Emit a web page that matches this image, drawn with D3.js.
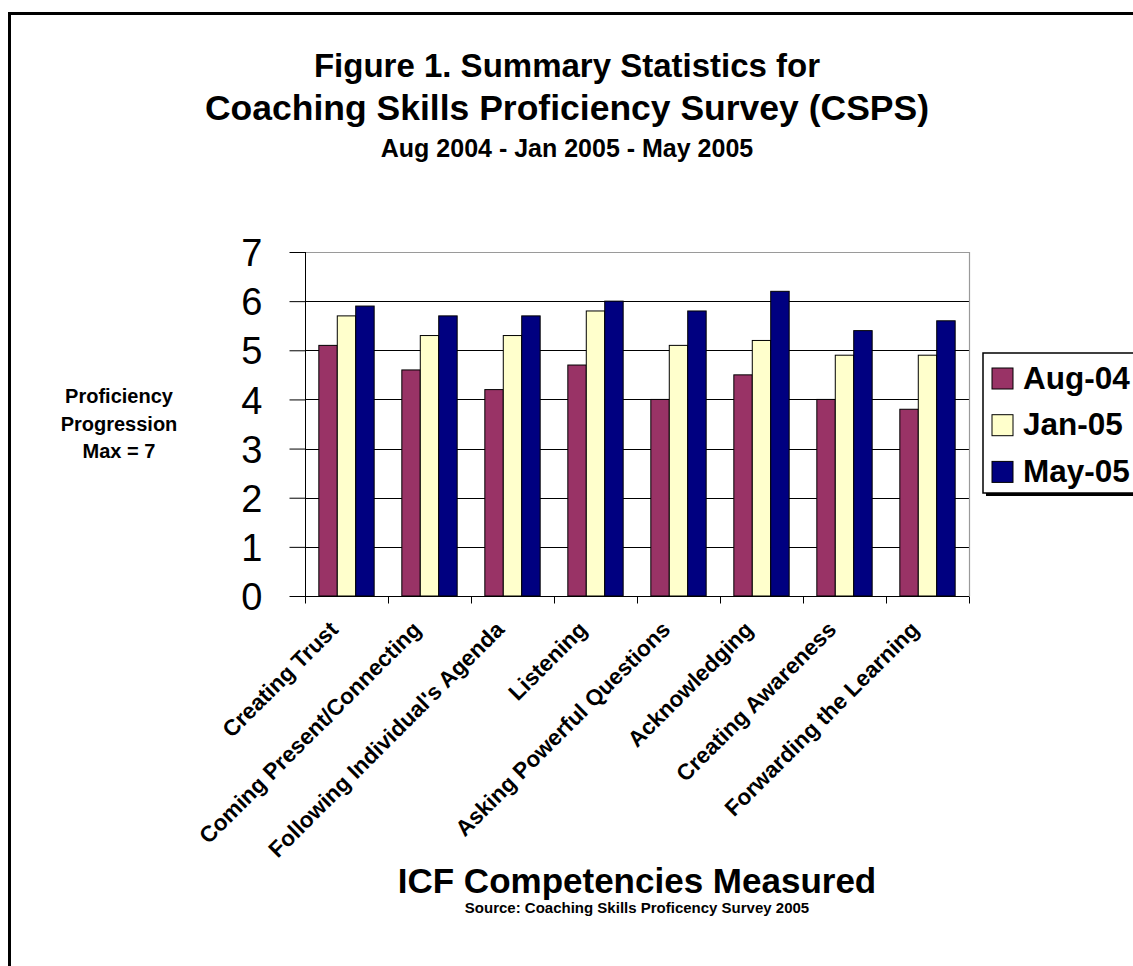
<!DOCTYPE html>
<html>
<head>
<meta charset="utf-8">
<script src="https://cdn.jsdelivr.net/npm/d3@7"></script>
<style>
  html, body { margin: 0; padding: 0; background: #fff; overflow: hidden; }
  svg { display: block; font-family: "Liberation Sans", Arial, Helvetica, sans-serif; }
</style>
</head>
<body>
<svg id="chart" width="1133" height="966"></svg>
<script>
const categories = ["Creating Trust", "Coming Present/Connecting", "Following Individual's Agenda",
  "Listening", "Asking Powerful Questions", "Acknowledging", "Creating Awareness", "Forwarding the Learning"];
const seriesNames = ["Aug-04", "Jan-05", "May-05"];
const aug04 = [5.1, 4.6, 4.2, 4.7, 4.0, 4.5, 4.0, 3.8];
const jan05 = [5.7, 5.3, 5.3, 5.8, 5.1, 5.2, 4.9, 4.9];
const may05 = [5.9, 5.7, 5.7, 6.0, 5.8, 6.2, 5.4, 5.6];
const seriesColors = ["#993366", "#FFFFCC", "#000080"];
const yTicks = [0, 1, 2, 3, 4, 5, 6, 7];
const titleLines = ["Figure 1. Summary Statistics for", "Coaching Skills Proficiency Survey (CSPS)", "Aug 2004 - Jan 2005 - May 2005"];
const yTitleLines = ["Proficiency", "Progression", "Max = 7"];
const xTitle = "ICF Competencies Measured";
const sourceText = "Source: Coaching Skills Proficency Survey 2005";

const seriesValues = [aug04, jan05, may05];
const svg = d3.select("#chart");

// outer frame
svg.append("rect").attr("x", 9.5).attr("y", 13.5).attr("width", 1200).attr("height", 1000)
  .attr("fill", "none").attr("stroke", "#000").attr("stroke-width", 3);

const plot = { left: 305, right: 969, top: 252, bottom: 596 };

const x0 = d3.scaleBand().domain(categories).range([plot.left, plot.right]).paddingInner(0).paddingOuter(0);
const x1 = d3.scaleBand().domain(seriesNames).range([0, x0.bandwidth()]).paddingInner(0).paddingOuter(0.75);
const y = d3.scaleLinear().domain([0, 7]).range([plot.bottom, plot.top]);

// gridlines
svg.append("g").selectAll("line").data(yTicks.filter(t => t > 0 && t < 7)).join("line")
  .attr("x1", plot.left).attr("x2", plot.right)
  .attr("y1", d => Math.round(y(d)) + 0.5).attr("y2", d => Math.round(y(d)) + 0.5)
  .attr("stroke", "#000").attr("stroke-width", 1);

// plot border top & right (gray)
svg.append("line").attr("x1", plot.left).attr("x2", plot.right + 0.5)
  .attr("y1", Math.round(y(7)) + 0.5).attr("y2", Math.round(y(7)) + 0.5)
  .attr("stroke", "#9a9a9a").attr("stroke-width", 1.2);
svg.append("line").attr("x1", plot.right + 0.5).attr("x2", plot.right + 0.5)
  .attr("y1", y(7)).attr("y2", y(0))
  .attr("stroke", "#9a9a9a").attr("stroke-width", 1.2);

// bars
const rows = categories.map((c, i) => ({ cat: c, vals: seriesNames.map((s, j) => ({ s, j, v: seriesValues[j][i] })) }));
const groups = svg.append("g").selectAll("g").data(rows).join("g")
  .attr("transform", d => `translate(${x0(d.cat)},0)`);
groups.selectAll("rect").data(d => d.vals).join("rect")
  .attr("x", d => x1(d.s))
  .attr("y", d => y(d.v))
  .attr("width", x1.bandwidth())
  .attr("height", d => y(0) - y(d.v))
  .attr("fill", d => seriesColors[d.j])
  .attr("stroke", "#000").attr("stroke-width", 1);

// y axis
const yAxis = d3.axisLeft(y).tickValues(yTicks).tickSize(16).tickPadding(27).tickFormat(d3.format("d"));
const gy = svg.append("g").attr("transform", `translate(${plot.left + 0.5},0)`).call(yAxis);
gy.select(".domain").attr("stroke", "#000").attr("d", `M0,${y(7)}V${y(0) + 7}`);
gy.selectAll(".tick line").attr("stroke", "#000");
gy.selectAll(".tick text").attr("font-size", 38).attr("font-family", "Liberation Sans, Arial, sans-serif")
  .attr("fill", "#000").attr("dy", "0.36em");

// x axis
const xIdx = d3.scaleLinear().domain([0, categories.length]).range([plot.left, plot.right]);
const xAxis = d3.axisBottom(xIdx).tickValues(d3.range(categories.length + 1)).tickSize(7).tickFormat("");
const gx = svg.append("g").attr("transform", `translate(0,${Math.round(y(0)) + 0.5})`).call(xAxis);
gx.select(".domain").attr("stroke", "#000").attr("d", `M${plot.left},0H${plot.right}`);
gx.selectAll(".tick line").attr("stroke", "#000");

// category labels (rotated)
svg.append("g").selectAll("text").data(categories).join("text")
  .attr("transform", d => `translate(${x0(d) + x0.bandwidth() / 2 - 7},${plot.bottom + 35}) rotate(-45)`)
  .attr("text-anchor", "end")
  .attr("font-size", 22.5).attr("font-weight", "bold").attr("fill", "#000")
  .text(d => d);

// titles
const tSizes = [33, 35.5, 25];
const tBase = [77, 120, 157];
svg.append("g").selectAll("text").data(titleLines).join("text")
  .attr("x", 567).attr("y", (d, i) => tBase[i])
  .attr("text-anchor", "middle").attr("font-weight", "bold")
  .attr("font-size", (d, i) => tSizes[i]).attr("fill", "#000")
  .text(d => d);

// y title
svg.append("g").selectAll("text").data(yTitleLines).join("text")
  .attr("x", 119).attr("y", (d, i) => 403 + i * 27.5)
  .attr("text-anchor", "middle").attr("font-weight", "bold")
  .attr("font-size", 20).attr("fill", "#000")
  .text(d => d);

// x title & source
const cx = (plot.left + plot.right) / 2;
svg.append("text").attr("x", cx).attr("y", 893).attr("text-anchor", "middle")
  .attr("font-weight", "bold").attr("font-size", 35).attr("fill", "#000").text(xTitle);
svg.append("text").attr("x", cx).attr("y", 913).attr("text-anchor", "middle")
  .attr("font-weight", "bold").attr("font-size", 15).attr("fill", "#000").text(sourceText);

// legend
const lg = svg.append("g");
lg.append("rect").attr("x", 986).attr("y", 356).attr("width", 200).attr("height", 140).attr("fill", "#000");
lg.append("rect").attr("x", 983).attr("y", 353).attr("width", 200).attr("height", 140)
  .attr("fill", "#fff").attr("stroke", "#000").attr("stroke-width", 1.5);
const li = lg.selectAll("g.item").data(seriesNames).join("g").attr("class", "item")
  .attr("transform", (d, i) => `translate(992,${368 + i * 46.7})`);
li.append("rect").attr("width", 21).attr("height", 21)
  .attr("fill", (d, i) => seriesColors[i]).attr("stroke", "#000").attr("stroke-width", 1);
li.append("text").attr("x", 31).attr("y", 20.5).attr("font-size", 31.5).attr("font-weight", "bold")
  .attr("fill", "#000").text(d => d);
</script>
</body>
</html>
